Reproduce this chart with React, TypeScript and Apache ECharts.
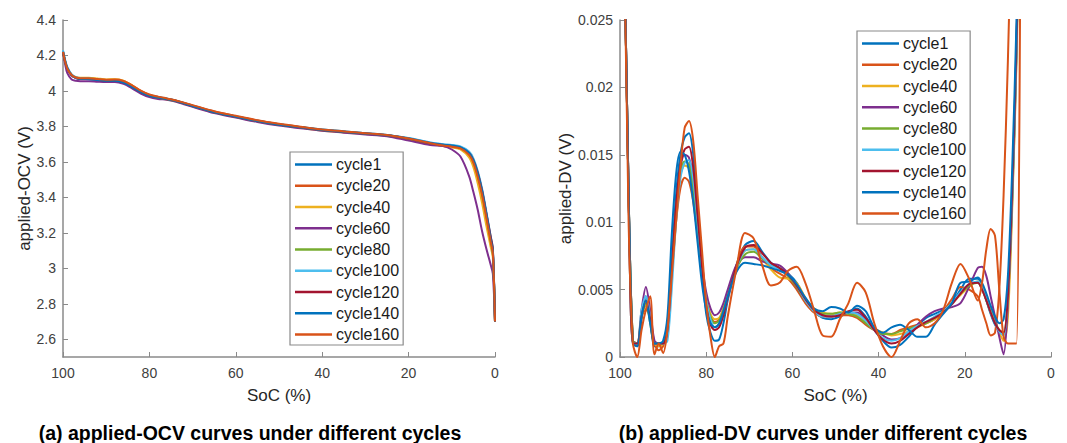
import React, { useEffect, useRef } from "react";
import * as echarts from "echarts";

const cycleNames = ["cycle1", "cycle20", "cycle40", "cycle60", "cycle80", "cycle100", "cycle120", "cycle140", "cycle160"];
const cycleColors = ["#0072BD", "#D95319", "#EDB120", "#7E2F8E", "#77AC30", "#4DBEEE", "#A2142F", "#0072BD", "#D95319"];

const xTicks = [100, 80, 60, 40, 20, 0];
const ocvTicks = [2.6, 2.8, 3, 3.2, 3.4, 3.6, 3.8, 4, 4.2, 4.4];
const dvTicks = [0, 0.005, 0.01, 0.015, 0.02, 0.025];

// ---- applied-OCV data ----
const ocvSoc = [100, 99.5, 99, 98, 97, 96, 94, 92, 90, 88, 86, 84, 82, 80, 78, 76, 74, 72, 70, 65, 60, 55, 50, 45, 40, 35, 30, 25, 20, 15, 12, 10, 8, 6, 5, 4, 3, 2, 1, 0.5, 0];
const ocvCycle1 = [4.225, 4.17, 4.13, 4.09, 4.075, 4.07, 4.068, 4.063, 4.058, 4.058, 4.048, 4.022, 3.993, 3.975, 3.965, 3.957, 3.947, 3.932, 3.917, 3.882, 3.856, 3.832, 3.812, 3.796, 3.782, 3.772, 3.762, 3.752, 3.734, 3.708, 3.698, 3.692, 3.684, 3.652, 3.612, 3.54, 3.44, 3.31, 3.17, 3.10, 2.70];
const ocvCycle20 = [4.22, 4.165, 4.125, 4.088, 4.074, 4.07, 4.07, 4.066, 4.062, 4.063, 4.055, 4.03, 4.0, 3.978, 3.966, 3.956, 3.946, 3.932, 3.918, 3.884, 3.858, 3.833, 3.813, 3.797, 3.78, 3.77, 3.76, 3.75, 3.73, 3.703, 3.69, 3.684, 3.674, 3.638, 3.59, 3.51, 3.41, 3.28, 3.15, 3.09, 2.70];
const ocvCycle40 = [4.22, 4.168, 4.13, 4.092, 4.078, 4.075, 4.075, 4.07, 4.065, 4.066, 4.058, 4.032, 3.998, 3.975, 3.962, 3.952, 3.942, 3.928, 3.913, 3.878, 3.853, 3.828, 3.808, 3.792, 3.776, 3.766, 3.757, 3.748, 3.728, 3.702, 3.69, 3.682, 3.67, 3.625, 3.57, 3.48, 3.37, 3.24, 3.12, 3.06, 2.70];
const ocvCycle60 = [4.22, 4.15, 4.10, 4.065, 4.057, 4.055, 4.055, 4.052, 4.05, 4.05, 4.04, 4.015, 3.985, 3.965, 3.955, 3.95, 3.94, 3.925, 3.91, 3.875, 3.85, 3.825, 3.805, 3.79, 3.775, 3.765, 3.755, 3.745, 3.72, 3.695, 3.69, 3.67, 3.63, 3.52, 3.43, 3.33, 3.21, 3.11, 3.02, 2.97, 2.70];
const ocvCycle80 = [4.22, 4.168, 4.128, 4.09, 4.076, 4.071, 4.07, 4.065, 4.06, 4.06, 4.05, 4.025, 3.995, 3.974, 3.963, 3.954, 3.944, 3.93, 3.915, 3.88, 3.855, 3.83, 3.81, 3.795, 3.78, 3.77, 3.76, 3.75, 3.73, 3.705, 3.696, 3.692, 3.682, 3.648, 3.605, 3.525, 3.425, 3.295, 3.155, 3.085, 2.70];
const ocvCycle100 = [4.23, 4.175, 4.135, 4.094, 4.078, 4.072, 4.07, 4.065, 4.06, 4.06, 4.05, 4.025, 3.996, 3.976, 3.966, 3.957, 3.947, 3.932, 3.917, 3.882, 3.857, 3.832, 3.812, 3.797, 3.782, 3.772, 3.762, 3.752, 3.735, 3.71, 3.7, 3.695, 3.687, 3.658, 3.62, 3.55, 3.45, 3.32, 3.18, 3.11, 2.70];
const ocvCycle120 = [4.22, 4.165, 4.127, 4.088, 4.073, 4.068, 4.067, 4.063, 4.058, 4.058, 4.048, 4.023, 3.994, 3.974, 3.964, 3.955, 3.945, 3.93, 3.915, 3.88, 3.855, 3.83, 3.81, 3.795, 3.78, 3.77, 3.76, 3.75, 3.73, 3.705, 3.695, 3.69, 3.68, 3.65, 3.61, 3.54, 3.44, 3.31, 3.18, 3.11, 2.70];
const ocvCycle140 = [4.22, 4.166, 4.127, 4.088, 4.073, 4.068, 4.066, 4.062, 4.057, 4.057, 4.047, 4.022, 3.993, 3.973, 3.963, 3.955, 3.945, 3.93, 3.915, 3.88, 3.855, 3.83, 3.81, 3.795, 3.78, 3.77, 3.76, 3.75, 3.732, 3.707, 3.697, 3.692, 3.683, 3.65, 3.608, 3.535, 3.435, 3.305, 3.165, 3.095, 2.70];
const ocvCycle160 = [4.22, 4.164, 4.125, 4.09, 4.076, 4.072, 4.072, 4.067, 4.063, 4.064, 4.056, 4.032, 4.002, 3.98, 3.968, 3.958, 3.948, 3.934, 3.92, 3.886, 3.86, 3.835, 3.815, 3.798, 3.782, 3.772, 3.762, 3.752, 3.732, 3.705, 3.692, 3.686, 3.676, 3.64, 3.595, 3.515, 3.415, 3.285, 3.15, 3.085, 2.70];

// ---- applied-DV data ----
const dvSoc = [100, 99, 98, 97, 96, 95, 94, 93, 92, 91, 90, 89, 88, 87, 86, 85, 84, 83, 82, 81, 80, 79, 78, 77, 76, 75,
  73, 71, 69, 67, 65, 63, 61, 59, 57, 55, 53, 51, 49, 47, 45, 43, 41, 39, 37, 35, 33, 31, 29, 27, 25, 23, 21, 19, 17,
  16, 15, 14, 13, 12, 11, 10, 9, 8, 7];
const dvCycle1 = [0.040, 0.030, 0.012, 0.0010, 0.0008, 0.0028, 0.0045, 0.0030, 0.0008, 0.0008, 0.0010, 0.0022, 0.0070, 0.0120, 0.0150, 0.0163, 0.0166, 0.0150, 0.0110, 0.0065, 0.0032, 0.0018, 0.0012, 0.0013, 0.0025, 0.0042,
  0.0068, 0.0083, 0.0086, 0.0078, 0.0070, 0.0066, 0.0062, 0.0055, 0.0043, 0.0034, 0.0029, 0.0028, 0.0030, 0.0033, 0.0036, 0.0030, 0.0020, 0.0012, 0.0007, 0.0009, 0.0015, 0.0023, 0.0029, 0.0032, 0.0035, 0.0040, 0.0050, 0.0058, 0.0058,
  0.0052, 0.0042, 0.0032, 0.0024, 0.0019, 0.0017, 0.0040, 0.0115, 0.0225, 0.0400];
const dvCycle20 = [0.040, 0.030, 0.012, 0.0010, 0.0010, 0.0030, 0.0035, 0.0030, 0.0010, 0.0005, 0.0008, 0.0020, 0.0060, 0.0100, 0.0125, 0.0133, 0.0130, 0.0115, 0.0090, 0.0062, 0.0040, 0.0030, 0.0026, 0.0028, 0.0036, 0.0046,
  0.0068, 0.0082, 0.0082, 0.0074, 0.0066, 0.0062, 0.0058, 0.0050, 0.0040, 0.0033, 0.0030, 0.0030, 0.0031, 0.0031, 0.0029, 0.0024, 0.0020, 0.0018, 0.0017, 0.0020, 0.0022, 0.0024, 0.0025, 0.0028, 0.0034, 0.0043, 0.0052, 0.0050, 0.0045,
  0.0035, 0.0025, 0.0016, 0.0018, 0.0050, 0.0120, 0.0220, 0.0350, 0.0500, 0.0600];
const dvCycle40 = [0.040, 0.030, 0.012, 0.0012, 0.0010, 0.0030, 0.0038, 0.0028, 0.0010, 0.0008, 0.0010, 0.0020, 0.0062, 0.0105, 0.0135, 0.0142, 0.0140, 0.0124, 0.0095, 0.0066, 0.0043, 0.0032, 0.0028, 0.0029, 0.0036, 0.0046,
  0.0066, 0.0079, 0.0080, 0.0073, 0.0065, 0.0059, 0.0058, 0.0055, 0.0044, 0.0036, 0.0033, 0.0032, 0.0033, 0.0033, 0.0031, 0.0026, 0.0021, 0.0018, 0.0016, 0.0017, 0.0019, 0.0022, 0.0025, 0.0028, 0.0033, 0.0040, 0.0046, 0.0052, 0.0056,
  0.0052, 0.0045, 0.0036, 0.0026, 0.0018, 0.0012, 0.0030, 0.0110, 0.0220, 0.0380];
const dvCycle60 = [0.040, 0.030, 0.012, 0.0012, 0.0010, 0.0035, 0.0052, 0.0035, 0.0012, 0.0010, 0.0010, 0.0018, 0.0060, 0.0110, 0.0140, 0.0150, 0.0148, 0.0130, 0.0100, 0.0070, 0.0048, 0.0036, 0.0031, 0.0033, 0.0040, 0.0050,
  0.0068, 0.0074, 0.0074, 0.0071, 0.0069, 0.0068, 0.0062, 0.0052, 0.0042, 0.0035, 0.0031, 0.0030, 0.0032, 0.0033, 0.0033, 0.0028, 0.0021, 0.0016, 0.0013, 0.0014, 0.0018, 0.0024, 0.0030, 0.0034, 0.0036, 0.0037, 0.0040, 0.0052, 0.0066,
  0.0067, 0.0060, 0.0045, 0.0030, 0.0015, 0.0002, 0.0040, 0.0120, 0.0230, 0.0400];
const dvCycle80 = [0.040, 0.030, 0.012, 0.0012, 0.0010, 0.0030, 0.0040, 0.0025, 0.0010, 0.0010, 0.0010, 0.0020, 0.0065, 0.0110, 0.0138, 0.0145, 0.0143, 0.0125, 0.0095, 0.0065, 0.0042, 0.0030, 0.0025, 0.0027, 0.0035, 0.0045,
  0.0065, 0.0076, 0.0078, 0.0073, 0.0068, 0.0066, 0.0060, 0.0052, 0.0042, 0.0035, 0.0032, 0.0032, 0.0033, 0.0032, 0.0030, 0.0025, 0.0020, 0.0017, 0.0017, 0.0019, 0.0021, 0.0023, 0.0025, 0.0029, 0.0034, 0.0040, 0.0047, 0.0053, 0.0055,
  0.0050, 0.0042, 0.0033, 0.0026, 0.0020, 0.0018, 0.0045, 0.0120, 0.0230, 0.0400];
const dvCycle100 = [0.040, 0.030, 0.012, 0.0010, 0.0010, 0.0035, 0.0045, 0.0030, 0.0010, 0.0010, 0.0010, 0.0012, 0.0050, 0.0100, 0.0132, 0.0144, 0.0146, 0.0132, 0.0100, 0.0068, 0.0042, 0.0028, 0.0022, 0.0024, 0.0032, 0.0044,
  0.0066, 0.0079, 0.0080, 0.0074, 0.0068, 0.0065, 0.0061, 0.0053, 0.0042, 0.0034, 0.0030, 0.0030, 0.0032, 0.0033, 0.0032, 0.0027, 0.0020, 0.0014, 0.0012, 0.0014, 0.0019, 0.0023, 0.0026, 0.0030, 0.0034, 0.0040, 0.0048, 0.0054, 0.0056,
  0.0051, 0.0043, 0.0033, 0.0025, 0.0019, 0.0016, 0.0045, 0.0120, 0.0230, 0.0400];
const dvCycle120 = [0.040, 0.030, 0.012, 0.0010, 0.0010, 0.0030, 0.0042, 0.0028, 0.0010, 0.0010, 0.0010, 0.0020, 0.0065, 0.0112, 0.0142, 0.0154, 0.0156, 0.0140, 0.0105, 0.0068, 0.0038, 0.0024, 0.0020, 0.0022, 0.0031, 0.0044,
  0.0067, 0.0081, 0.0083, 0.0077, 0.0070, 0.0066, 0.0061, 0.0053, 0.0043, 0.0035, 0.0031, 0.0030, 0.0031, 0.0034, 0.0035, 0.0029, 0.0020, 0.0013, 0.0010, 0.0012, 0.0017, 0.0022, 0.0026, 0.0029, 0.0033, 0.0039, 0.0047, 0.0054, 0.0055,
  0.0050, 0.0042, 0.0033, 0.0025, 0.0020, 0.0018, 0.0045, 0.0125, 0.0235, 0.0400];
const dvCycle140 = [0.040, 0.030, 0.012, 0.0010, 0.0008, 0.0030, 0.0042, 0.0025, 0.0010, 0.0010, 0.0012, 0.0030, 0.0090, 0.0135, 0.0152, 0.0150, 0.0138, 0.0115, 0.0085, 0.0055, 0.0035, 0.0025, 0.0022, 0.0025, 0.0034, 0.0045,
  0.0063, 0.0070, 0.0069, 0.0068, 0.0066, 0.0064, 0.0061, 0.0054, 0.0044, 0.0036, 0.0034, 0.0037, 0.0036, 0.0033, 0.0038, 0.0034, 0.0022, 0.0018, 0.0022, 0.0024, 0.0020, 0.0015, 0.0015, 0.0024, 0.0032, 0.0040, 0.0055, 0.0056, 0.0059,
  0.0055, 0.0047, 0.0038, 0.0030, 0.0025, 0.0028, 0.0060, 0.0140, 0.0250, 0.0400];
const dvCycle160 = [0.040, 0.030, 0.010, 0.0010, 0.0000, 0.0020, 0.0035, 0.0045, 0.0002, 0.0010, 0.0003, 0.0020, 0.0060, 0.0100, 0.0140, 0.0170, 0.0175, 0.0160, 0.0120, 0.0080, 0.0040, 0.0015, 0.0000, 0.0008, 0.0010, 0.0030,
  0.0065, 0.0092, 0.0088, 0.0068, 0.0053, 0.0055, 0.0064, 0.0067, 0.0055, 0.0035, 0.0016, 0.0015, 0.0028, 0.0040, 0.0055, 0.0048, 0.0025, 0.0008, 0.0000, 0.0012, 0.0025, 0.0028, 0.0022, 0.0025, 0.0035, 0.0055, 0.0069, 0.0058, 0.0042,
  0.0055, 0.0080, 0.0095, 0.0090, 0.0050, 0.0015, 0.0010, 0.0010, 0.0010, 0.0400];

const ocvSeriesValues = [ocvCycle1, ocvCycle20, ocvCycle40, ocvCycle60, ocvCycle80, ocvCycle100, ocvCycle120, ocvCycle140, ocvCycle160];
const dvSeriesValues = [dvCycle1, dvCycle20, dvCycle40, dvCycle60, dvCycle80, dvCycle100, dvCycle120, dvCycle140, dvCycle160];

const FONT = "'Liberation Sans', Arial, sans-serif";
const AXIS_COLOR = "#8a8a8a";
const LABEL_COLOR = "#404040";

function makeXAxis(gridIndex: number) {
  return {
    type: "value",
    gridIndex,
    inverse: true,
    min: 0,
    max: 100,
    interval: 20,
    name: "SoC (%)",
    nameLocation: "middle",
    nameGap: 30,
    nameTextStyle: { fontFamily: FONT, fontSize: 17, color: "#262626" },
    axisLine: { show: true, onZero: false, lineStyle: { color: AXIS_COLOR, width: 1.5 } },
    axisTick: { show: true, inside: true, length: 5, lineStyle: { color: AXIS_COLOR } },
    axisLabel: { fontFamily: FONT, fontSize: 14, color: LABEL_COLOR, margin: 9 },
    splitLine: { show: false },
  };
}

function makeLegend(left: number, top: number) {
  return {
    orient: "vertical",
    left,
    top,
    data: cycleNames,
    selectedMode: false,
    icon: "rect",
    itemWidth: 37,
    itemHeight: 2.5,
    itemGap: 0.25,
    padding: [2, 4, 0, 5],
    borderColor: "#8a8a8a",
    borderWidth: 1.2,
    borderRadius: 0,
    backgroundColor: "#ffffff",
    textStyle: { fontFamily: FONT, fontSize: 16, color: "#1a1a1a", lineHeight: 21, padding: [0, 0, 0, -1] },
  };
}

export default function App() {
  const ref = useRef<HTMLDivElement>(null);

  useEffect(() => {
    if (!ref.current) return;
    const chart = echarts.init(ref.current, undefined, { renderer: "svg" });

    const series: any[] = [];
    cycleNames.forEach((name, i) => {
      series.push({
        name,
        type: "line",
        xAxisIndex: 0,
        yAxisIndex: 0,
        data: ocvSoc.map((s, k) => [s, ocvSeriesValues[i][k]]),
        showSymbol: false,
        symbol: "none",
        smooth: 0.3,
        clip: true,
        color: cycleColors[i],
        lineStyle: { width: 2, color: cycleColors[i] },
      });
    });
    cycleNames.forEach((name, i) => {
      series.push({
        name,
        type: "line",
        xAxisIndex: 1,
        yAxisIndex: 1,
        data: dvSoc.map((s, k) => [s, dvSeriesValues[i][k]]),
        showSymbol: false,
        symbol: "none",
        smooth: 0.3,
        clip: true,
        color: cycleColors[i],
        lineStyle: { width: 2, color: cycleColors[i] },
      });
    });

    chart.setOption({
      animation: false,
      backgroundColor: "#ffffff",
      grid: [
        { left: 63, top: 20, width: 432, height: 337 },
        { left: 620, top: 20, width: 431, height: 337 },
      ],
      xAxis: [makeXAxis(0), makeXAxis(1)],
      yAxis: [
        {
          type: "value",
          gridIndex: 0,
          min: 2.5,
          max: 4.4,
          name: "applied-OCV (V)",
          nameLocation: "middle",
          nameGap: 30,
          nameTextStyle: { fontFamily: FONT, fontSize: 17, color: "#262626" },
          axisLine: { show: true, onZero: false, lineStyle: { color: AXIS_COLOR, width: 1.5 } },
          axisTick: { show: true, inside: true, length: 5, lineStyle: { color: AXIS_COLOR }, customValues: ocvTicks },
          axisLabel: { fontFamily: FONT, fontSize: 14, color: LABEL_COLOR, margin: 7, customValues: ocvTicks },
          splitLine: { show: false },
        },
        {
          type: "value",
          gridIndex: 1,
          min: 0,
          max: 0.025,
          interval: 0.005,
          name: "applied-DV (V)",
          nameLocation: "middle",
          nameGap: 46,
          nameTextStyle: { fontFamily: FONT, fontSize: 17, color: "#262626" },
          axisLine: { show: true, onZero: false, lineStyle: { color: AXIS_COLOR, width: 1.5 } },
          axisTick: { show: true, inside: true, length: 5, lineStyle: { color: AXIS_COLOR }, customValues: dvTicks },
          axisLabel: { fontFamily: FONT, fontSize: 14, color: LABEL_COLOR, margin: 7, customValues: dvTicks },
          splitLine: { show: false },
        },
      ],
      legend: [makeLegend(290, 152), makeLegend(857, 31)],
      graphic: [
        {
          type: "text",
          x: 250,
          y: 423,
          style: { text: "(a) applied-OCV curves under different cycles", fontFamily: FONT, fontSize: 19.5, fontWeight: "bold", fill: "#000", textAlign: "center" },
        },
        {
          type: "text",
          x: 823,
          y: 423,
          style: { text: "(b) applied-DV curves under different cycles", fontFamily: FONT, fontSize: 19.5, fontWeight: "bold", fill: "#000", textAlign: "center" },
        },
      ],
      series,
    });

    return () => chart.dispose();
  }, []);

  return <div ref={ref} style={{ width: 1067, height: 443, position: "absolute", left: 0, top: 0 }} />;
}
